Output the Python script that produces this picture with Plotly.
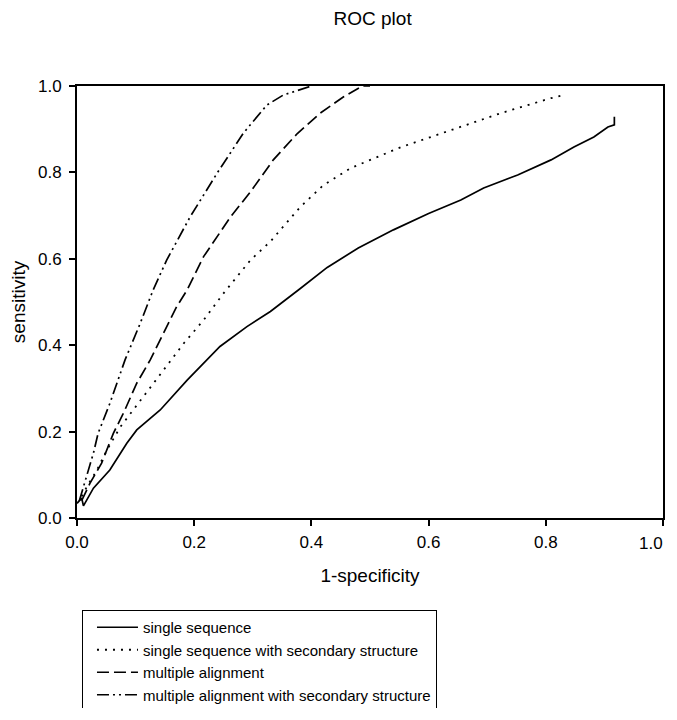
import plotly.graph_objects as go

# ROC curves: 1-specificity (x) vs sensitivity (y)
single_x = [0.0, 0.008, 0.011, 0.019, 0.028, 0.056, 0.085, 0.102, 0.142, 0.188, 0.244, 0.29, 0.33,
            0.38, 0.427, 0.48, 0.54, 0.60, 0.655, 0.694, 0.752, 0.809, 0.848, 0.882, 0.906, 0.917, 0.917]
single_y = [0.034, 0.046, 0.028, 0.049, 0.069, 0.111, 0.173, 0.204, 0.25, 0.319, 0.397, 0.443, 0.478,
            0.53, 0.58, 0.625, 0.667, 0.705, 0.736, 0.764, 0.794, 0.829, 0.859, 0.882, 0.905, 0.910, 0.929]

sec_x = [0.008, 0.017, 0.034, 0.051, 0.074, 0.091, 0.108, 0.148, 0.182, 0.216, 0.25, 0.296, 0.33,
         0.381, 0.42, 0.467, 0.552, 0.638, 0.723, 0.809, 0.831]
sec_y = [0.05, 0.073, 0.111, 0.157, 0.211, 0.242, 0.273, 0.343, 0.404, 0.458, 0.52, 0.597, 0.64,
         0.72, 0.77, 0.81, 0.858, 0.898, 0.937, 0.972, 0.979]

multi_x = [0.008, 0.022, 0.042, 0.062, 0.079, 0.102, 0.125, 0.148, 0.170, 0.188, 0.216, 0.262,
           0.296, 0.335, 0.376, 0.415, 0.455, 0.487, 0.50]
multi_y = [0.04, 0.080, 0.127, 0.196, 0.242, 0.312, 0.366, 0.428, 0.489, 0.528, 0.605, 0.697,
           0.755, 0.829, 0.89, 0.937, 0.975, 1.0, 1.0]

msec_x = [0.004, 0.014, 0.028, 0.036, 0.056, 0.082, 0.108, 0.130, 0.153, 0.193, 0.239, 0.284,
          0.324, 0.352, 0.393, 0.40]
msec_y = [0.04, 0.088, 0.15, 0.196, 0.265, 0.366, 0.451, 0.528, 0.597, 0.697, 0.798, 0.891,
          0.956, 0.979, 0.998, 1.0]

names = ['single sequence', 'single sequence with secondary structure',
         'multiple alignment', 'multiple alignment with secondary structure']

tick_vals = [0.0, 0.2, 0.4, 0.6, 0.8, 1.0]
tick_text = ['0.0', '0.2', '0.4', '0.6', '0.8', '1.0']

fig = go.Figure()
fig.add_trace(go.Scatter(x=single_x, y=single_y, mode='lines', name=names[0],
                         line=dict(color='black', width=1.7, dash='solid')))
fig.add_trace(go.Scatter(x=sec_x, y=sec_y, mode='lines', name=names[1],
                         line=dict(color='black', width=1.8, dash='2px,6px')))
fig.add_trace(go.Scatter(x=multi_x, y=multi_y, mode='lines', name=names[2],
                         line=dict(color='black', width=1.7, dash='12px,5px')))
fig.add_trace(go.Scatter(x=msec_x, y=msec_y, mode='lines', name=names[3],
                         line=dict(color='black', width=1.7, dash='12px,4px,2px,4px,2px,4px')))

font = 'Liberation Sans, Arial, sans-serif'
axis = dict(range=[0, 1], tickvals=tick_vals, showgrid=False, zeroline=False,
            showline=True, linecolor='black', linewidth=1.8, mirror=True,
            ticks='outside', ticklen=6, tickwidth=1.5, tickcolor='black',
            tickfont=dict(size=17, color='black'), automargin=False)

# last x label would run past the window edge, so it is placed right-aligned at its tick
fig.add_annotation(x=tick_vals[-1], y=0, xref='x', yref='y', text=tick_text[-1],
                   showarrow=False, xanchor='right', yanchor='middle', xshift=2, yshift=-25,
                   font=dict(size=17, color='black'))

# page body keeps an 8px margin, so the figure is sized to fit the window without scrollbars
fig.update_layout(
    width=669, height=700,
    plot_bgcolor='white', paper_bgcolor='white',
    font=dict(family=font, color='black'),
    margin=dict(l=69, r=14, t=78, b=190, autoexpand=False),
    title=dict(text='ROC plot', x=0.545, xanchor='center', y=0.985, yref='container',
               yanchor='middle', font=dict(size=19, color='black')),
    xaxis=dict(axis, ticktext=tick_text[:-1] + [''], ticklabelstandoff=2,
               title=dict(text='1-specificity', font=dict(size=19), standoff=17)),
    yaxis=dict(axis, ticktext=tick_text, ticklabelstandoff=4,
               title=dict(text='sensitivity', font=dict(size=19), standoff=8)),
    showlegend=True,
    legend=dict(x=0.0085, y=-0.213, xanchor='left', yanchor='top',
                bordercolor='black', borderwidth=1, bgcolor='white',
                font=dict(size=15, color='black'), itemwidth=41, indentation=9,
                tracegroupgap=0),
)

fig.write_html('out.html')
